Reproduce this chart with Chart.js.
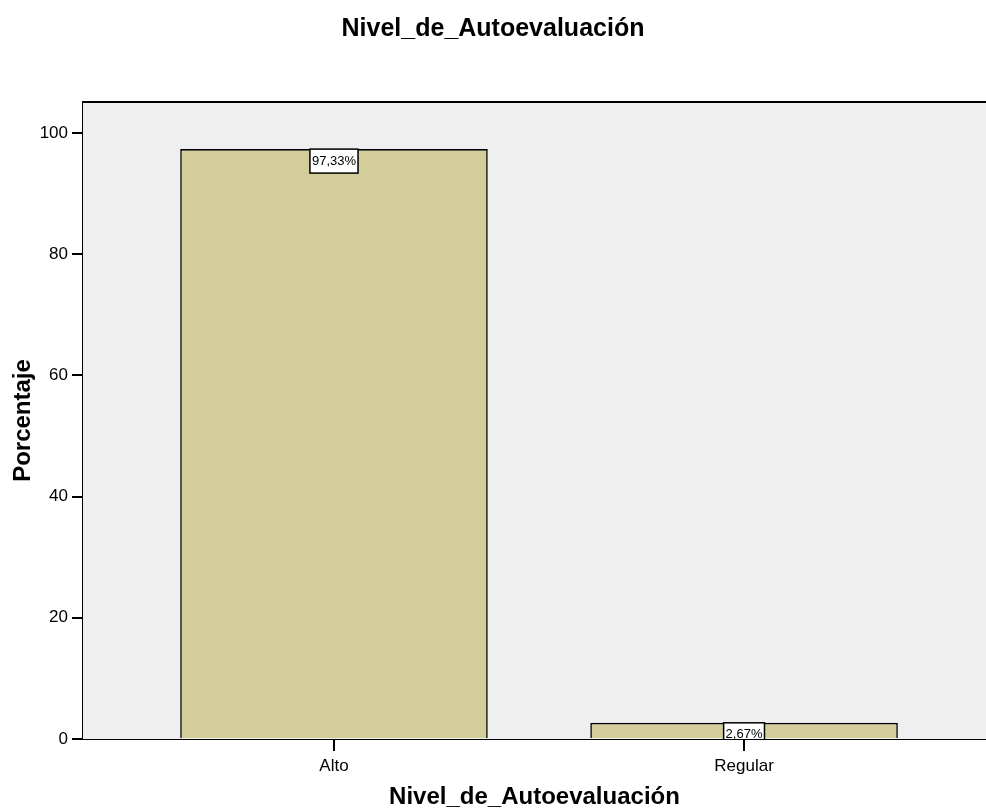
<!DOCTYPE html>
<html>
<head>
<meta charset="utf-8">
<script src="https://cdn.jsdelivr.net/npm/chart.js@4"></script>
<style>
  body { margin: 0; background: #fff; }
  #wrap { width: 986px; height: 812px; position: relative; }
</style>
</head>
<body>
<div id="wrap"><canvas id="chart"></canvas></div>
<script>
const categories = ["Alto", "Regular"];
const percentages = [97.33, 2.67];
const yTicks = [0, 20, 40, 60, 80, 100];
const chartTitle = "Nivel_de_Autoevaluación";
const xTitle = "Nivel_de_Autoevaluación";
const yTitle = "Porcentaje";

const FONT = "'Liberation Sans', Arial, sans-serif";

// grey plot background plus the top frame line
const plotFrame = {
  id: "plotFrame",
  beforeDatasetsDraw(chart) {
    const { ctx, chartArea: a } = chart;
    ctx.save();
    ctx.fillStyle = "#efefef";
    ctx.fillRect(a.left, a.top, a.right - a.left, a.bottom - a.top);
    ctx.restore();
  },
  afterDraw(chart) {
    const { ctx, chartArea: a } = chart;
    ctx.save();
    ctx.strokeStyle = "#000";
    ctx.lineWidth = 2;
    ctx.beginPath();
    ctx.moveTo(a.left, a.top);
    ctx.lineTo(a.right, a.top);
    ctx.stroke();
    ctx.restore();
  }
};

// boxed percentage labels hanging from the top of each bar
const barLabels = {
  id: "barLabels",
  afterDatasetsDraw(chart) {
    const { ctx, chartArea: a } = chart;
    const meta = chart.getDatasetMeta(0);
    ctx.save();
    ctx.beginPath();
    ctx.rect(a.left, a.top, a.right - a.left, a.bottom - a.top);
    ctx.clip();
    ctx.font = "13px " + FONT;
    ctx.textAlign = "center";
    ctx.textBaseline = "middle";
    meta.data.forEach((bar, i) => {
      const txt = percentages[i].toFixed(2).replace(".", ",") + "%";
      const w = ctx.measureText(txt).width + 4;
      const h = 24;
      ctx.fillStyle = "#fff";
      ctx.fillRect(bar.x - w / 2, bar.y, w, h);
      ctx.strokeStyle = "#000";
      ctx.lineWidth = 1.5;
      ctx.strokeRect(bar.x - w / 2, bar.y, w, h);
      ctx.fillStyle = "#000";
      ctx.fillText(txt, bar.x, bar.y + h / 2);
    });
    ctx.restore();
  }
};

new Chart(document.getElementById("chart"), {
  type: "bar",
  data: {
    datasets: [{
      data: percentages.map((v, i) => ({ x: i + 1, y: v })),
      backgroundColor: "#d3ce99",
      borderColor: "#000",
      borderWidth: 1.6,
      barPercentage: 0.75,
      categoryPercentage: 1
    }]
  },
  options: {
    responsive: true,
    maintainAspectRatio: false,
    animation: false,
    layout: { padding: 0 },
    plugins: {
      legend: { display: false },
      tooltip: { enabled: false },
      title: {
        display: true,
        text: chartTitle,
        color: "#000",
        font: { family: FONT, size: 25, weight: "bold" },
        padding: { top: 14, bottom: 58 }
      }
    },
    scales: {
      x: {
        type: "linear",
        offset: false,
        min: 0.388,
        max: 2.59,
        afterBuildTicks: s => { s.ticks = categories.map((c, i) => ({ value: i + 1 })); },
        afterFit: s => { s.height = 73; },
        ticks: {
          color: "#000",
          font: { family: FONT, size: 17 },
          padding: 5,
          callback: v => categories[v - 1]
        },
        grid: { offset: false, drawOnChartArea: false, drawTicks: true, tickLength: 12, color: "#000", lineWidth: 2 },
        border: { display: true, color: "#000", width: 2 },
        title: {
          display: true,
          text: xTitle,
          color: "#000",
          font: { family: FONT, size: 24, weight: "bold" },
          padding: { top: 0, bottom: 0 }
        }
      },
      y: {
        min: 0,
        max: 105.1,
        afterBuildTicks: s => { s.ticks = yTicks.map(v => ({ value: v })); },
        afterFit: s => { s.width = 83; },
        ticks: {
          color: "#000",
          font: { family: FONT, size: 17 },
          padding: 4
        },
        grid: { drawOnChartArea: false, drawTicks: true, tickLength: 11, color: "#000", lineWidth: 2 },
        border: { display: true, color: "#000", width: 2 },
        title: {
          display: true,
          text: yTitle,
          color: "#000",
          font: { family: FONT, size: 24, weight: "bold" },
          padding: { top: 9, bottom: 0 }
        }
      }
    }
  },
  plugins: [plotFrame, barLabels]
});
</script>
</body>
</html>
